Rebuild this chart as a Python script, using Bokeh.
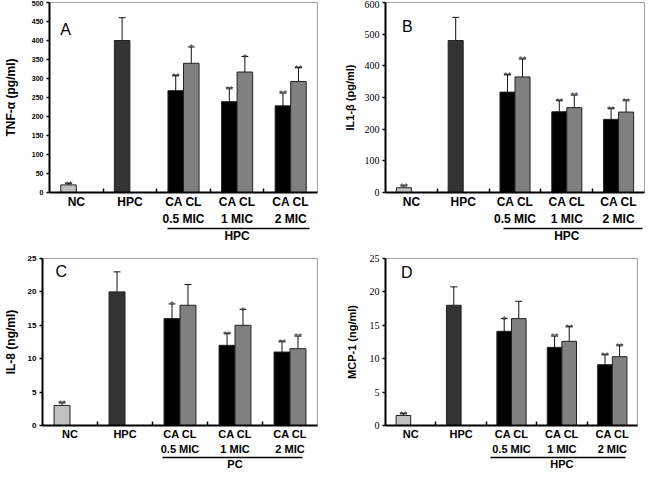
from bokeh.plotting import figure
from bokeh.models import (ColumnDataSource, FixedTicker, LinearAxis, Range1d,
                          Whisker, TeeHead, Label)
from bokeh.layouts import column, row
from bokeh.embed import file_html
from bokeh.resources import INLINE
from bokeh.core.properties import value

# ---------------- data ----------------
group_pos = [1, 2, 3, 4, 5]
group_line1 = ["NC", "HPC", "CA CL", "CA CL", "CA CL"]
group_line2 = ["", "", "0.5 MIC", "1 MIC", "2 MIC"]
single_pos = [1, 2]          # NC, HPC
pair_pos = [3, 4, 5]         # CA/CL groups

# Panel A  TNF-alpha (pg/ml)
tnf_single = [20, 400]
tnf_single_err = [4, 60]
tnf_single_sig = ["**", ""]
tnf_ca = [268, 239, 228]
tnf_ca_err = [40, 36, 34]
tnf_ca_sig = ["**", "**", "**"]
tnf_cl = [340, 317, 292]
tnf_cl_err = [43, 41, 37]
tnf_cl_sig = ["*", "*", "**"]

# Panel B  IL1-beta (pg/ml)
il1_single = [15, 480]
il1_single_err = [6, 73]
il1_single_sig = ["**", ""]
il1_ca = [317, 255, 231]
il1_ca_err = [55, 36, 35]
il1_ca_sig = ["**", "**", "**"]
il1_cl = [365, 268, 254]
il1_cl_err = [57, 40, 38]
il1_cl_sig = ["**", "**", "**"]

# Panel C  IL-8 (ng/ml)
il8_single = [3, 20]
il8_single_err = [0.4, 3]
il8_single_sig = ["**", ""]
il8_ca = [16, 12, 11]
il8_ca_err = [2.2, 1.8, 1.6]
il8_ca_sig = ["*", "**", "**"]
il8_cl = [18, 15, 11.5]
il8_cl_err = [3.1, 2.4, 1.9]
il8_cl_sig = ["", "*", "**"]

# Panel D  MCP-1 (ng/ml)
mcp_single = [1.5, 18]
mcp_single_err = [0.3, 2.75]
mcp_single_sig = ["**", ""]
mcp_ca = [14.1, 11.7, 9.1]
mcp_ca_err = [1.9, 1.7, 1.5]
mcp_ca_sig = ["*", "**", "**"]
mcp_cl = [16, 12.6, 10.3]
mcp_cl_err = [2.6, 2.2, 1.75]
mcp_cl_sig = ["", "**", "**"]

COL_NC = "#c0c0c0"
COL_HPC = "#333333"
COL_CA = "#000000"
COL_CL = "#808080"

OFF = 0.145
BW = 0.29


def style_text_axis(ax, standoff, fsize):
    ax.major_tick_in = 0
    ax.major_tick_out = 0
    ax.minor_tick_line_color = None
    ax.major_label_standoff = standoff
    ax.major_label_text_font = "Liberation Sans"
    ax.major_label_text_font_style = "bold"
    ax.major_label_text_font_size = fsize
    ax.major_label_text_color = "black"
    ax.axis_label_standoff = 0


def make_panel(letter, ylabel, ymax, ystep, single, single_err, single_sig,
               ca, ca_err, ca_sig, cl, cl_err, cl_sig, group_name,
               width, height, b_left, b_right, b_top, b_bottom,
               tick_font, tick_size, tick_bold, ylab_size, ylab_standoff,
               letter_xy, under_bounds, xfont, margin):
    p = figure(width=width, height=height, output_backend="svg",
               toolbar_location=None, x_range=Range1d(0.5, 5.5),
               y_range=Range1d(0, ymax),
               min_border_left=b_left, min_border_right=b_right,
               min_border_top=b_top, min_border_bottom=b_bottom,
               margin=margin)
    p.grid.visible = False
    p.outline_line_color = "#a0a0a0"
    p.outline_line_width = 1
    p.background_fill_color = "white"
    p.border_fill_color = "white"

    xs_single = [x - OFF for x in single_pos]
    xs_ca = [x - OFF for x in pair_pos]
    xs_cl = [x + OFF for x in pair_pos]

    series = [
        (xs_single[:1], single[:1], single_err[:1], single_sig[:1], COL_NC),
        (xs_single[1:], single[1:], single_err[1:], single_sig[1:], COL_HPC),
        (xs_ca, ca, ca_err, ca_sig, COL_CA),
        (xs_cl, cl, cl_err, cl_sig, COL_CL),
    ]
    for xs, vals, errs, sigs, col in series:
        src = ColumnDataSource(dict(
            x=xs, top=vals,
            upper=[v + e for v, e in zip(vals, errs)],
            lower=[v - e for v, e in zip(vals, errs)],
            sig=sigs))
        p.vbar(x="x", top="top", width=BW, source=src, fill_color=col,
               line_color="#222222", line_width=1)
        w = Whisker(base="x", upper="upper", lower="lower", source=src,
                    line_color="#111111", line_width=1,
                    upper_head=TeeHead(size=7, line_color="#111111", line_width=1),
                    lower_head=TeeHead(size=7, line_color="#111111", line_width=1))
        p.add_layout(w)
        p.text(x="x", y="upper", text="sig", source=src,
               text_font=value("Liberation Sans"), text_font_size="10px",
               text_color="#444444", text_align="center",
               text_baseline="alphabetic", y_offset=2)

    # y axis
    ya = p.yaxis[0]
    ya.ticker = FixedTicker(ticks=[i * ystep for i in range(int(round(ymax / ystep)) + 1)])
    ya.axis_line_color = "black"
    ya.axis_line_width = 2
    ya.major_tick_in = 0
    ya.major_tick_out = 3
    ya.major_tick_line_width = 1.5
    ya.minor_tick_line_color = None
    ya.major_label_standoff = 3
    ya.major_label_text_font = tick_font
    ya.major_label_text_font_size = tick_size
    ya.major_label_text_font_style = "bold" if tick_bold else "normal"
    ya.major_label_text_color = "black"
    ya.axis_label = ylabel
    ya.axis_label_text_font = "Liberation Sans"
    ya.axis_label_text_font_style = "bold"
    ya.axis_label_text_font_size = ylab_size
    ya.axis_label_text_color = "black"
    ya.axis_label_standoff = ylab_standoff

    # x axis line 1 (category names; boundary ticks as minor ticks)
    xa = p.xaxis[0]
    style_text_axis(xa, 2, xfont)
    xa.ticker = FixedTicker(ticks=group_pos, minor_ticks=[1.5, 2.5, 3.5, 4.5])
    xa.major_label_overrides = {k: v for k, v in zip(group_pos, group_line1)}
    xa.axis_line_color = "black"
    xa.axis_line_width = 2
    xa.minor_tick_in = 4
    xa.minor_tick_out = 0
    xa.minor_tick_line_color = "black"
    xa.minor_tick_line_width = 1.5

    # x axis line 2 (concentrations)
    xb = LinearAxis(ticker=FixedTicker(ticks=pair_pos),
                    major_label_overrides={k: v for k, v in zip(group_pos, group_line2) if v})
    style_text_axis(xb, 0, xfont)
    xb.axis_line_color = None
    p.add_layout(xb, "below")

    # group label with underline (axis line limited by bounds)
    ga = LinearAxis(ticker=FixedTicker(ticks=[4]),
                    major_label_overrides={4: group_name},
                    bounds=under_bounds)
    style_text_axis(ga, 0, xfont)
    ga.axis_line_color = "black"
    ga.axis_line_width = 1.5
    p.add_layout(ga, "below")

    p.add_layout(Label(x=letter_xy[0], y=letter_xy[1], text=letter,
                       text_font="Liberation Sans", text_font_size="16px",
                       text_align="center", text_baseline="middle",
                       text_color="black"))
    return p


pA = make_panel("A", "TNF-\u03b1 (pg/ml)", 500, 50, tnf_single, tnf_single_err,
                tnf_single_sig, tnf_ca, tnf_ca_err, tnf_ca_sig, tnf_cl,
                tnf_cl_err, tnf_cl_sig, "HPC",
                322, 245, 42, 5, 1, 46,
                "Liberation Sans", "7px", True, "12px", 11,
                (0.8, 428), (2.7, 5.35), "12px", (0, 0, -5, 0))
pB = make_panel("B", "IL1-\u03b2 (pg/ml)", 600, 100, il1_single, il1_single_err,
                il1_single_sig, il1_ca, il1_ca_err, il1_ca_sig, il1_cl,
                il1_cl_err, il1_cl_sig, "HPC",
                323, 245, 63, 1, 2, 46,
                "Liberation Serif", "10px", False, "11px", 6,
                (0.92, 523), (2.77, 5.46), "12px", (0, 0, -5, 0))
pC = make_panel("C", "IL-8 (ng/ml)", 25, 5, il8_single, il8_single_err,
                il8_single_sig, il8_ca, il8_ca_err, il8_ca_sig, il8_cl,
                il8_cl_err, il8_cl_sig, "PC",
                322, 232, 37, 5, 12, 39,
                "Liberation Sans", "8px", True, "12px", 7,
                (0.84, 23), (2.68, 5.23), "11px", (0, 0, 0, 0))
pD = make_panel("D", "MCP-1 (ng/ml)", 25, 5, mcp_single, mcp_single_err,
                mcp_single_sig, mcp_ca, mcp_ca_err, mcp_ca_sig, mcp_cl,
                mcp_cl_err, mcp_cl_sig, "HPC",
                323, 232, 63, 8, 18, 33,
                "Liberation Serif", "10px", False, "11px", 9,
                (0.92, 22.9), (2.58, 5.27), "11px", (0, 0, 0, 0))

layout = column(row(pA, pB), row(pC, pD))
open("out.html", "w").write(file_html(layout, INLINE))
